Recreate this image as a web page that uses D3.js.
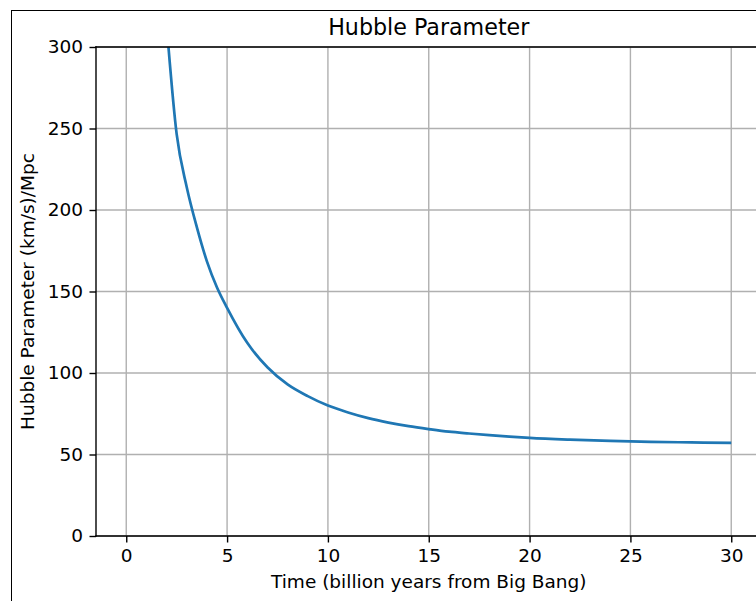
<!DOCTYPE html>
<html>
<head>
<meta charset="utf-8">
<script src="https://cdn.jsdelivr.net/npm/d3@7"></script>
<style>
  html, body { margin: 0; padding: 0; background: #fff; }
  svg { display: block; }
  text { font-family: "DejaVu Sans", sans-serif; fill: #000; }
</style>
</head>
<body>
<svg id="chart" width="756" height="601"></svg>
<script>
// Data
const timeGyr = [2, 2.5, 3, 3.5, 4, 4.5, 5, 6, 7, 8, 9, 10, 11, 12, 13, 14, 15, 16, 17, 18, 19, 20, 22, 24, 26, 28, 30];
const hubble  = [314, 246.5, 214, 189.5, 168.5, 152.5, 140, 118.5, 103.5, 93, 85.8, 80, 75.8, 72.3, 69.6, 67.4, 65.6, 64.0, 62.9, 61.9, 61.0, 60.2, 59.1, 58.3, 57.8, 57.4, 57.1];
const xTicks = [0, 5, 10, 15, 20, 25, 30];
const yTicks = [0, 50, 100, 150, 200, 250, 300];
const titleText = "Hubble Parameter";
const xLabelText = "Time (billion years from Big Bang)";
const yLabelText = "Hubble Parameter (km/s)/Mpc";

const svg = d3.select("#chart");

// figure border (cropped)
svg.append("rect").attr("x", 11.5).attr("y", 10.5).attr("width", 800).attr("height", 700)
  .attr("fill", "none").attr("stroke", "#000").attr("stroke-width", 1);

const L = 96, R = 761.5, T = 47, B = 536;
const x = d3.scaleLinear().domain([-1.5, 31.5]).range([L, R]);
const y = d3.scaleLinear().domain([0, 300]).range([B, T]);

svg.append("defs").append("clipPath").attr("id", "clip")
  .append("rect").attr("x", L).attr("y", T).attr("width", R - L).attr("height", B - T);

// grid
const grid = svg.append("g");
grid.selectAll(".gx").data(xTicks).join("line")
  .attr("x1", d => x(d)).attr("x2", d => x(d)).attr("y1", T).attr("y2", B)
  .attr("stroke", "#b0b0b0").attr("stroke-width", 1.4);
grid.selectAll(".gy").data(yTicks).join("line")
  .attr("y1", d => y(d)).attr("y2", d => y(d)).attr("x1", L).attr("x2", R)
  .attr("stroke", "#b0b0b0").attr("stroke-width", 1.4);

// line
const pts = timeGyr.map((t, i) => [t, hubble[i]]);
svg.append("path").datum(pts)
  .attr("clip-path", "url(#clip)")
  .attr("fill", "none").attr("stroke", "#1f77b4").attr("stroke-width", 2.7)
  .attr("stroke-linejoin", "round").attr("stroke-linecap", "butt")
  .attr("d", d3.line().x(d => x(d[0])).y(d => y(d[1])).curve(d3.curveMonotoneX));

// axes
const xAxis = d3.axisBottom(x).tickValues(xTicks).tickSize(6.5).tickPadding(6).tickFormat(d3.format("d"));
const yAxis = d3.axisLeft(y).tickValues(yTicks).tickSize(6.5).tickPadding(6.5).tickFormat(d3.format("d"));

const gx = svg.append("g").attr("transform", `translate(0,${B})`).call(xAxis);
const gy = svg.append("g").attr("transform", `translate(${L},0)`).call(yAxis);
[gx, gy].forEach(g => {
  g.select(".domain").remove();
  g.selectAll(".tick line").attr("stroke", "#000").attr("stroke-width", 1.4);
  g.selectAll(".tick text").style("font-family", "'DejaVu Sans', sans-serif").style("font-size", "18.5px").attr("fill", "#000");
});

// spines
const sp = svg.append("g").attr("stroke", "#000").attr("stroke-width", 1.4).attr("stroke-linecap", "square");
sp.append("line").attr("x1", L).attr("x2", L).attr("y1", T).attr("y2", B);
sp.append("line").attr("x1", L).attr("x2", R).attr("y1", B).attr("y2", B);
sp.append("line").attr("x1", L).attr("x2", R).attr("y1", T).attr("y2", T);
sp.append("line").attr("x1", R).attr("x2", R).attr("y1", T).attr("y2", B);

// labels
svg.append("text").attr("x", (L + R) / 2).attr("y", 35).attr("text-anchor", "middle")
  .style("font-size", "22.2px").text(titleText);
svg.append("text").attr("x", (L + R) / 2).attr("y", 588).attr("text-anchor", "middle")
  .style("font-size", "18.5px").text(xLabelText);
svg.append("text").attr("transform", `translate(34,${(T + B) / 2}) rotate(-90)`).attr("text-anchor", "middle")
  .style("font-size", "18.5px").text(yLabelText);
</script>
</body>
</html>
